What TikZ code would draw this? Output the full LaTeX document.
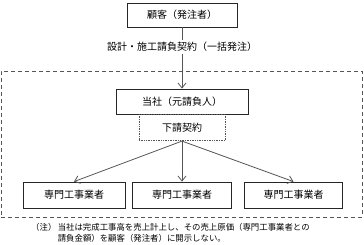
\documentclass[tikz,border=0pt]{standalone}
\usepackage{fontspec}
\newfontfamily\jpfont{Noto Sans CJK JP}
\usetikzlibrary{arrows.meta,positioning}
\definecolor{linegray}{HTML}{555555}

\begin{document}
\begin{tikzpicture}[x=1pt,y=-1pt,font=\jpfont\fontsize{10}{12}\selectfont,
  party/.style={draw=black!85,line width=0.8pt,minimum height=24pt,inner sep=0pt},
  flow/.style={linegray,line width=0.8pt,-{Straight Barb[length=5pt,width=8pt]}}]
  \useasboundingbox (0,0) rectangle (364,245);

  % client and contract
  \node[party,minimum width=110pt] (client) at (182,15) {顧客（発注者）};
  \node[inner sep=2pt] (contract) at (182,47) {設計・施工請負契約（一括発注）};
  \draw[linegray,line width=0.8pt] (client) -- (contract);

  % group boundary
  \node[draw=linegray,dashed,line width=0.8pt,dash pattern=on 4pt off 3pt,
    minimum width=361pt,minimum height=146pt,inner sep=0pt] (group) at (181.5,144) {};

  % company
  \node[party,minimum width=132pt,minimum height=25pt] (company) at (182,101.5) {当社（元請負人）};
  \draw[flow] (contract) -- (company);
  \node[draw=linegray,densely dotted,line width=0.7pt,minimum width=86pt,minimum height=26pt,
    inner sep=0pt,anchor=north] (sub) at (company.south) {下請契約};

  % specialist contractors
  \node[party,minimum width=102pt,minimum height=26pt] (spec1) at (74,195) {専門工事業者};
  \node[party,minimum width=99pt,minimum height=26pt] (spec2) at (182,195) {専門工事業者};
  \node[party,minimum width=98pt,minimum height=26pt] (spec3) at (293.5,195) {専門工事業者};
  \foreach \n in {spec1,spec2,spec3}
    \draw[flow] (sub.south) -- (\n.north);

  % note
  \node[anchor=north west,inner sep=0pt,font=\jpfont\fontsize{8.4}{11.5}\selectfont] (note) at (31,222)
    {\begin{tabular}{@{}l@{\,}l@{}}（注）&当社は完成工事高を売上計上し、その売上原価（専門工事業者との\\
     &請負金額）を顧客（発注者）に開示しない。\end{tabular}};
\end{tikzpicture}
\end{document}
